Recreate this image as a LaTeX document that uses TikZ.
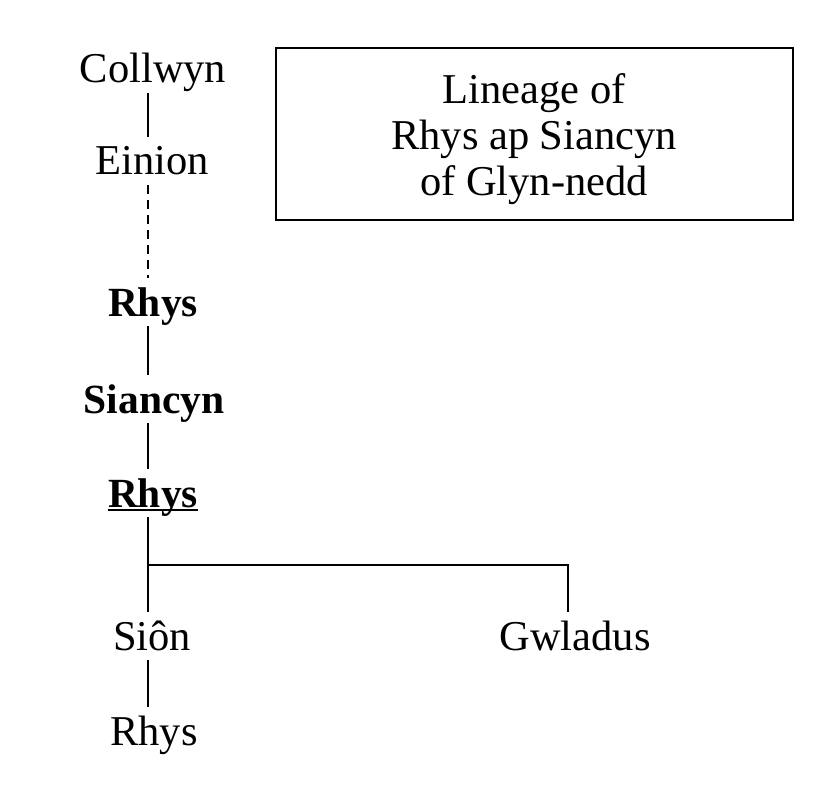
\documentclass[tikz,border=0pt]{standalone}
\usepackage{fontspec}
\setmainfont{Liberation Serif}
\begin{document}
\begin{tikzpicture}[x=1pt,y=-1pt,
  person/.style={font=\fontsize{42.5}{46}\selectfont, inner sep=0pt, outer sep=0pt, text height=38pt, text depth=10pt, anchor=base},
  bperson/.style={person, font=\fontsize{41.5}{46}\selectfont\bfseries},
  link/.style={line width=1.8pt},
  dlink/.style={line width=1.8pt, dash pattern=on 9pt off 6pt},
  titlebox/.style={draw, line width=1.8pt, minimum width=517pt, minimum height=172pt, inner sep=0pt},
  titletext/.style={font=\fontsize{42.5}{46}\selectfont, align=center, inner sep=0pt}]
\useasboundingbox (0,0) rectangle (827,797);
\coordinate (axis) at (148,0);
\coordinate (raxis) at (568,0);
\node[person] (collwyn) at (153,83) {Collwyn};
\node[person] (einion) at (152,175) {Einion};
\node[bperson] (rhys1) at (153,316) {Rhys};
\node[bperson] (siancyn) at (154,413) {Siancyn};
\node[bperson] (rhys2) at (153,507) {Rhys};
\node[person] (sion) at (152,650) {Siôn};
\node[person] (gwladus) at (575,650) {Gwladus};
\node[person] (rhys3) at (154,745) {Rhys};
\coordinate (fork) at (148,565);
\coordinate (forkr) at (568,565);
\draw[line width=1.5pt] ([yshift=-3pt]rhys2.base west) -- ([yshift=-3pt]rhys2.base east);
\draw[link] (collwyn.south -| axis) -- (einion.north -| axis);
\draw[dlink] (einion.south -| axis) -- (rhys1.north -| axis);
\draw[link] (rhys1.south -| axis) -- (siancyn.north -| axis);
\draw[link] (siancyn.south -| axis) -- (rhys2.north -| axis);
\draw[link] (rhys2.south -| axis) -- (sion.north -| axis);
\draw[link] (fork) -- (forkr) -- (gwladus.north -| raxis);
\draw[link] (sion.south -| axis) -- (rhys3.north -| axis);
\node[titlebox] (title) at (534.5,134) {};
\node[titletext] (titlet) at (534,139) {Lineage of\\Rhys ap Siancyn\\of Glyn-nedd};
\end{tikzpicture}
\end{document}
